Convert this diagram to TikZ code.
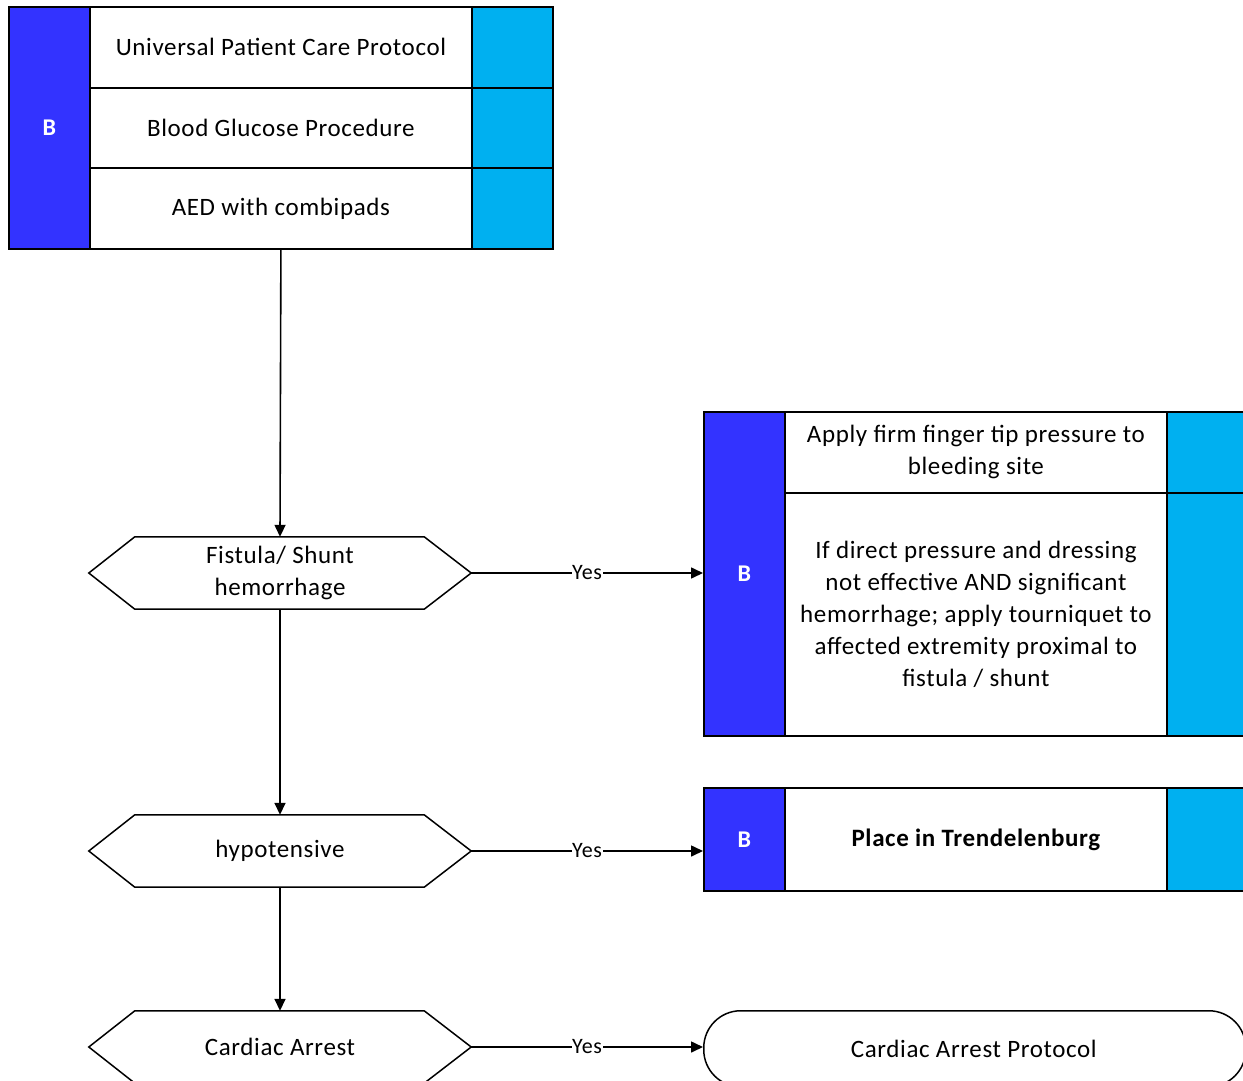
\documentclass[tikz,border=0pt]{standalone}
\usepackage{fontspec}
\setmainfont{Carlito}[LetterSpace=2.5]
\usetikzlibrary{arrows.meta,calc}
\definecolor{codeblue}{HTML}{3333FF}
\definecolor{sidecyan}{HTML}{00B0F0}

% hexagonal decision outline around a named (undrawn) rectangle node
\newcommand\hexframe[1]{%
  \draw[line width=1.5pt] (#1.west) -- ($(#1.north west)+(46,0)$) -- ($(#1.north east)+(-47,0)$)
    -- (#1.east) -- ($(#1.south east)+(-47,0)$) -- ($(#1.south west)+(46,0)$) -- cycle;}

\begin{document}
\begin{tikzpicture}[x=1pt,y=-1pt,
  cell/.style={draw, line width=1.8pt, inner sep=0pt, anchor=north west, align=center,
    font=\fontsize{25}{32}\selectfont},
  codecell/.style={cell, fill=codeblue, text=white, font=\fontsize{24}{24}\selectfont\bfseries,
    minimum width=81pt},
  sidecell/.style={cell, fill=sidecyan, minimum width=81pt},
  stepcell/.style={cell, fill=white, minimum width=382pt},
  decision/.style={inner sep=0pt, minimum width=382pt, minimum height=72pt, align=center,
    font=\fontsize{25}{32}\selectfont},
  flow/.style={line width=1.6pt, -{Triangle[length=12pt,width=11pt]}},
  yeslabel/.style={fill=white, inner sep=0.5pt, font=\fontsize{22}{22}\selectfont}]
\useasboundingbox (0,0) rectangle (1243,1081);
\clip (0,0) rectangle (1243,1081);
\fill[white] (0,0) rectangle (1243,1081);

% initial care block
\node[codecell, minimum height=242pt] (bA) at (8,6) {B};
\node[stepcell, minimum height=81pt] (sA1) at (89,6) {Universal Patient Care Protocol};
\node[stepcell, minimum height=80pt] (sA2) at (89,87) {Blood Glucose Procedure};
\node[stepcell, minimum height=81pt] (sA3) at (89,167) {AED with combipads};
\node[sidecell, minimum height=81pt] (cA1) at (471,6) {};
\node[sidecell, minimum height=80pt] (cA2) at (471,87) {};
\node[sidecell, minimum height=81pt] (cA3) at (471,167) {};

% decisions
\node[decision] (d1) at (280,573) {Fistula/ Shunt\\hemorrhage};
\node[decision] (d2) at (280,851) {hypotensive};
\node[decision] (d3) at (280,1047) {Cardiac Arrest};
\hexframe{d1}
\hexframe{d2}
\hexframe{d3}

% hemorrhage control block
\node[codecell, minimum height=324pt] (bB) at (703,411) {B};
\node[stepcell, minimum height=81pt] (sB1) at (784,411) {Apply firm finger tip pressure to\\bleeding site};
\node[stepcell, minimum height=243pt] (sB2) at (784,492) {If direct pressure and dressing\\not effective AND significant\\hemorrhage; apply tourniquet to\\affected extremity proximal to\\fistula / shunt};
\node[sidecell, minimum height=81pt] (cB1) at (1166,411) {};
\node[sidecell, minimum height=243pt] (cB2) at (1166,492) {};

% hypotension block
\node[codecell, minimum height=103pt] (bC) at (703,787) {B};
\node[stepcell, minimum height=103pt, font=\fontsize{25}{32}\selectfont\bfseries] (sC1) at (784,787) {Place in Trendelenburg};
\node[sidecell, minimum height=103pt] (cC1) at (1166,787) {};

% cardiac arrest terminal
\node[draw, line width=1.5pt, rounded corners=37pt, anchor=north west, minimum width=542pt,
  minimum height=76pt, inner sep=0pt, font=\fontsize{25}{32}\selectfont] (tD) at (703,1010)
  {\hspace*{-2pt}Cardiac Arrest Protocol};

% connectors
\draw[flow] (sA3.south) -- (d1.north);
\draw[flow] (d1.south) -- (d2.north);
\draw[flow] (d2.south) -- (d3.north);
\draw[flow] (d1.east) -- (d1.east -| bB.west) node[yeslabel, midway] {Yes};
\draw[flow] (d2.east) -- (d2.east -| bC.west) node[yeslabel, midway] {Yes};
\draw[flow] (d3.east) -- (d3.east -| tD.west) node[yeslabel, midway] {Yes};
\end{tikzpicture}
\end{document}
